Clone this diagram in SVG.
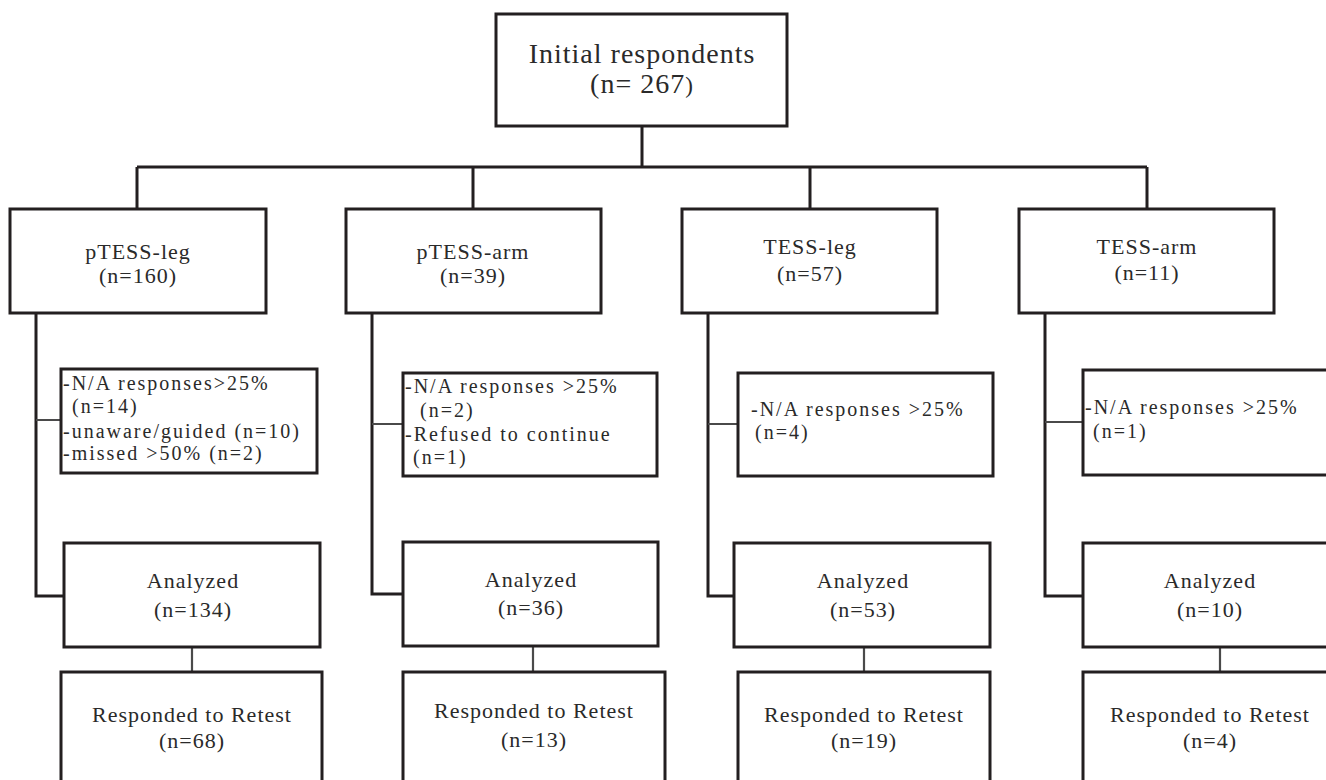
<svg xmlns="http://www.w3.org/2000/svg" width="1326" height="780" viewBox="0 0 1326 780">
<style>
.box{fill:#fff;stroke:#231f20;stroke-width:3}
.ln{fill:none;stroke:#231f20;stroke-width:3}
.thin{fill:none;stroke:#4a4a4a;stroke-width:2.2}
text{font-family:"Liberation Serif","Times New Roman",serif;fill:#2a2a2a}
.t{font-size:22px;letter-spacing:1px;text-anchor:middle}
.h{font-size:28px;letter-spacing:1px;text-anchor:middle}
.e{font-size:20px;letter-spacing:2px}
</style>
<rect width="1326" height="780" fill="#fff"/>
<g id="connectors">
<path class="ln" d="M642 126V167M137 167H1147M137 167V209M473 167V209M810 167V209M1147 167V209"/>
<path class="ln" d="M36 313V596H64M372 313V594H403M708 313V596H734M1045 313V596H1083"/>
<path class="thin" d="M36 420H61M372 424H403M708 424H738M1045 422H1083"/>
<path class="thin" d="M192 647V672M533 646V672M864 647V672M1220 647V672"/>
</g>
<g id="initial">
<rect class="box" x="496" y="14" width="291" height="112"/>
<text class="h" x="642" y="63">Initial respondents</text>
<text class="h" x="642" y="93">(n= 267<tspan font-size="23">)</tspan></text>
</g>
<g id="ptess-leg">
<rect class="box" x="10" y="209" width="256" height="104"/>
<text class="t" x="138" y="259">pTESS-leg</text>
<text class="t" x="138" y="283">(n=160)</text>
</g>
<g id="ptess-arm">
<rect class="box" x="346" y="209" width="255" height="104"/>
<text class="t" x="473" y="259">pTESS-arm</text>
<text class="t" x="473" y="283">(n=39)</text>
</g>
<g id="tess-leg">
<rect class="box" x="682" y="209" width="255" height="104"/>
<text class="t" x="810" y="254">TESS-leg</text>
<text class="t" x="810" y="281">(n=57)</text>
</g>
<g id="tess-arm">
<rect class="box" x="1019" y="209" width="255" height="104"/>
<text class="t" x="1147" y="254">TESS-arm</text>
<text class="t" x="1147" y="280">(n=11)</text>
</g>
<g id="excl-ptess-leg">
<rect class="box" x="61" y="369" width="256" height="104"/>
<text class="e" x="63" y="390">-N/A responses&gt;25%</text>
<text class="e" x="72" y="413">(n=14)</text>
<text class="e" x="63" y="438">-unaware/guided (n=10)</text>
<text class="e" x="63" y="460">-missed &gt;50% (n=2)</text>
</g>
<g id="excl-ptess-arm">
<rect class="box" x="403" y="373" width="254" height="103"/>
<text class="e" x="405" y="393">-N/A responses &gt;25%</text>
<text class="e" x="420" y="417">(n=2)</text>
<text class="e" x="405" y="441">-Refused to continue</text>
<text class="e" x="413" y="464">(n=1)</text>
</g>
<g id="excl-tess-leg">
<rect class="box" x="738" y="373" width="255" height="103"/>
<text class="e" x="751" y="416">-N/A responses &gt;25%</text>
<text class="e" x="755" y="439">(n=4)</text>
</g>
<g id="excl-tess-arm">
<rect class="box" x="1083" y="370" width="260" height="105"/>
<text class="e" x="1085" y="414">-N/A responses &gt;25%</text>
<text class="e" x="1093" y="438">(n=1)</text>
</g>
<g id="analyzed-ptess-leg">
<rect class="box" x="64" y="543" width="256" height="104"/>
<text class="t" x="193" y="588">Analyzed</text>
<text class="t" x="193" y="617">(n=134)</text>
</g>
<g id="analyzed-ptess-arm">
<rect class="box" x="403" y="542" width="255" height="104"/>
<text class="t" x="531" y="587">Analyzed</text>
<text class="t" x="531" y="615">(n=36)</text>
</g>
<g id="analyzed-tess-leg">
<rect class="box" x="734" y="543" width="256" height="104"/>
<text class="t" x="863" y="588">Analyzed</text>
<text class="t" x="863" y="617">(n=53)</text>
</g>
<g id="analyzed-tess-arm">
<rect class="box" x="1083" y="543" width="260" height="104"/>
<text class="t" x="1210" y="588">Analyzed</text>
<text class="t" x="1210" y="617">(n=10)</text>
</g>
<g id="retest-ptess-leg">
<rect class="box" x="61" y="672" width="261" height="120"/>
<text class="t" x="192" y="722">Responded to Retest</text>
<text class="t" x="192" y="748">(n=68)</text>
</g>
<g id="retest-ptess-arm">
<rect class="box" x="403" y="672" width="262" height="120"/>
<text class="t" x="534" y="718">Responded to Retest</text>
<text class="t" x="534" y="747">(n=13)</text>
</g>
<g id="retest-tess-leg">
<rect class="box" x="738" y="672" width="252" height="120"/>
<text class="t" x="864" y="722">Responded to Retest</text>
<text class="t" x="864" y="748">(n=19)</text>
</g>
<g id="retest-tess-arm">
<rect class="box" x="1083" y="672" width="260" height="120"/>
<text class="t" x="1210" y="722">Responded to Retest</text>
<text class="t" x="1210" y="748">(n=4)</text>
</g>
</svg>
